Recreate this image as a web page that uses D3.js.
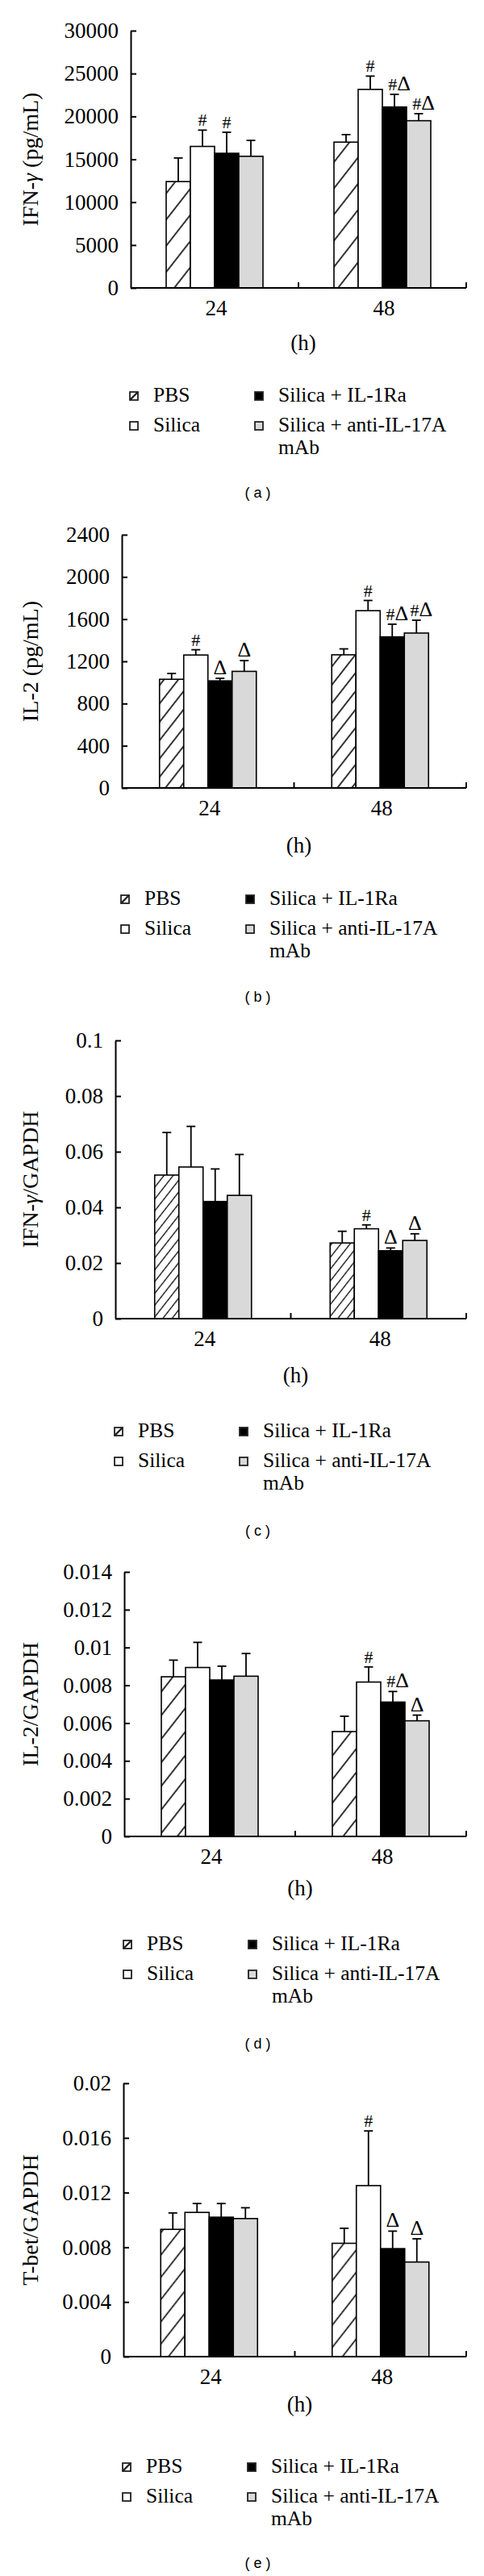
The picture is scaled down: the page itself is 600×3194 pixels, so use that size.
<!DOCTYPE html>
<html><head><meta charset="utf-8">
<script src="https://cdn.jsdelivr.net/npm/d3@7"></script>
<style>
body{margin:0;background:#fff}
svg{display:block}
text{font-family:"Liberation Serif","DejaVu Serif",serif;fill:#000}
</style>
</head><body>
<script>
// ---------- data ----------
const groups = ["PBS", "Silica", "Silica + IL-1Ra", "Silica + anti-IL-17A mAb"];
const times = ["24", "48"];

// (a) IFN-γ protein (pg/mL)
const ifnProtein    = [[12400, 16500, 15700, 15350], [17000, 23150, 21100, 19500]];
const ifnProteinErr = [[2750, 1900, 2450, 1850], [880, 1550, 1470, 820]];
const ifnProteinSig = [["", "#", "#", ""], ["", "#", "#Δ", "#Δ"]];
const ifnProteinTicks = [0, 5000, 10000, 15000, 20000, 25000, 30000];

// (b) IL-2 protein (pg/mL)
const il2Protein    = [[1030, 1260, 1015, 1105], [1262, 1680, 1432, 1468]];
const il2ProteinErr = [[55, 50, 24, 102], [56, 97, 120, 122]];
const il2ProteinSig = [["", "#", "Δ", "Δ"], ["", "#", "#Δ", "#Δ"]];
const il2ProteinTicks = [0, 400, 800, 1200, 1600, 2000, 2400];

// (c) IFN-γ mRNA / GAPDH
const ifnMrna    = [[0.0516, 0.0545, 0.0421, 0.0443], [0.0272, 0.0323, 0.0244, 0.0281]];
const ifnMrnaErr = [[0.0153, 0.0146, 0.0117, 0.0147], [0.0042, 0.0014, 0.0010, 0.0024]];
const ifnMrnaSig = [["", "", "", ""], ["", "#", "Δ", "Δ"]];
const ifnMrnaTicks = [0, 0.02, 0.04, 0.06, 0.08, 0.1];

// (d) IL-2 mRNA / GAPDH
const il2Mrna    = [[0.00845, 0.00894, 0.00828, 0.00848], [0.00555, 0.00817, 0.00711, 0.00612]];
const il2MrnaErr = [[0.00088, 0.00133, 0.00073, 0.00120], [0.00081, 0.00080, 0.00056, 0.00030]];
const il2MrnaSig = [["", "", "", ""], ["", "#", "#Δ", "Δ"]];
const il2MrnaTicks = [0, 0.002, 0.004, 0.006, 0.008, 0.01, 0.012, 0.014];

// (e) T-bet mRNA / GAPDH
const tbet    = [[0.00931, 0.01055, 0.0102, 0.0101], [0.00829, 0.01251, 0.0079, 0.00692]];
const tbetErr = [[0.0012, 0.00065, 0.0010, 0.00079], [0.0011, 0.0040, 0.00128, 0.0017]];
const tbetSig = [["", "", "", ""], ["", "#", "Δ", "Δ"]];
const tbetTicks = [0, 0.004, 0.008, 0.012, 0.016, 0.02];

const yLabels = [
  ["IFN-", "γ", " (pg/mL)"],
  ["IL-2 (pg/mL)"],
  ["IFN-", "γ", "/GAPDH"],
  ["IL-2/GAPDH"],
  ["T-bet/GAPDH"]
];
const panelLetters = ["a", "b", "c", "d", "e"];
const xTitle = "(h)";

// ---------- layout ----------
const W = 600, H = 3194;
const axisXs = [162, 151, 143, 154, 153];
const topYs  = [38, 663, 1290, 1949, 2583];
const zeroYs = [357, 977, 1635, 2277, 2922];
const hYs    = [434, 1057, 1714, 2350, 2990];
const legYs  = [498, 1122, 1782, 2418, 3066];
const labYs  = [617, 1242, 1904, 2540, 3184];
const hatchGap = [20, 14, 9, 18, 17];
const fills = [null, "#ffffff", "#000000", "#d9d9d9"];

const panels = [
  {vals: ifnProtein, errs: ifnProteinErr, sig: ifnProteinSig, ticks: ifnProteinTicks},
  {vals: il2Protein, errs: il2ProteinErr, sig: il2ProteinSig, ticks: il2ProteinTicks},
  {vals: ifnMrna, errs: ifnMrnaErr, sig: ifnMrnaSig, ticks: ifnMrnaTicks},
  {vals: il2Mrna, errs: il2MrnaErr, sig: il2MrnaSig, ticks: il2MrnaTicks},
  {vals: tbet, errs: tbetErr, sig: tbetSig, ticks: tbetTicks}
];

const svg = d3.select("body").append("svg").attr("width", W).attr("height", H);
const defs = svg.append("defs");

panels.forEach((p, i) => {
  const ax = axisXs[i], xr = 578;
  const yTop = topYs[i], y0 = zeroYs[i];
  const g = svg.append("g");

  // hatch pattern
  const pid = "hatch" + i, gap = hatchGap[i];
  const pat = defs.append("pattern").attr("id", pid)
    .attr("patternUnits", "userSpaceOnUse")
    .attr("width", gap).attr("height", gap)
    .attr("patternTransform", "rotate(38)");
  pat.append("rect").attr("width", gap).attr("height", gap).attr("fill", "#fff");
  pat.append("line").attr("x1", gap / 2).attr("x2", gap / 2).attr("y1", 0).attr("y2", gap)
    .attr("stroke", "#000").attr("stroke-width", i === 2 ? 1.3 : 1.6);

  const y = d3.scaleLinear().domain([0, d3.max(p.ticks)]).range([y0, yTop]);
  const x = d3.scaleBand().domain(times).range([ax, xr]);
  const xi = d3.scaleBand().domain(groups).range([-60, 60]);

  // bars
  times.forEach((t, ti) => {
    const cx = x(t) + x.bandwidth() / 2;
    groups.forEach((gname, gi) => {
      const v = p.vals[ti][gi], e = p.errs[ti][gi];
      const bx = cx + xi(gname), bw = xi.bandwidth();
      const bc = bx + bw / 2;
      // error bar (upper only)
      g.append("line").attr("x1", bc).attr("x2", bc).attr("y1", y(v)).attr("y2", y(v + e))
        .attr("stroke", "#000").attr("stroke-width", 1.8);
      g.append("line").attr("x1", bc - 5.5).attr("x2", bc + 5.5).attr("y1", y(v + e)).attr("y2", y(v + e))
        .attr("stroke", "#000").attr("stroke-width", 1.8);
      g.append("rect").attr("x", bx).attr("y", y(v)).attr("width", bw).attr("height", y0 - y(v))
        .attr("fill", gi === 0 ? `url(#${pid})` : fills[gi])
        .attr("stroke", "#000").attr("stroke-width", 1.6);
      const s = p.sig[ti][gi];
      if (s) {
        const tt = g.append("text").attr("x", bc + (s.length > 1 ? 6 : 0)).attr("y", y(v + e) - 5)
          .attr("text-anchor", "middle").style("font-size", "23px");
        s.split("").forEach(ch => {
          tt.append("tspan").style("font-size", ch === "Δ" ? "26px" : "22px").text(ch);
        });
      }
    });
  });

  // y axis
  const yAxis = d3.axisLeft(y).tickValues(p.ticks).tickSize(-7).tickSizeOuter(0).tickPadding(15)
    .tickFormat(d => String(d));
  const ya = g.append("g").attr("transform", `translate(${ax},0)`).call(yAxis);
  ya.selectAll("path,line").attr("stroke", "#000").attr("stroke-width", 2);
  ya.selectAll("text").style("font-size", "27px").style("font-family", '"Liberation Serif",serif');

  // x axis
  g.append("line").attr("x1", ax).attr("x2", xr).attr("y1", y0).attr("y2", y0)
    .attr("stroke", "#000").attr("stroke-width", 2);
  [x(times[1]), xr].forEach(tx => {
    g.append("line").attr("x1", tx).attr("x2", tx).attr("y1", y0).attr("y2", y0 - 7)
      .attr("stroke", "#000").attr("stroke-width", 2);
  });
  times.forEach(t => {
    g.append("text").attr("x", x(t) + x.bandwidth() / 2 + 2).attr("y", y0 + 34)
      .attr("text-anchor", "middle").style("font-size", "27px").text(t);
  });
  g.append("text").attr("x", x(times[1]) + 6).attr("y", hYs[i])
    .attr("text-anchor", "middle").style("font-size", "27px").text(xTitle);

  // y label
  const yl = g.append("text")
    .attr("transform", `translate(37,${(y0 + yTop) / 2}) rotate(-90)`)
    .attr("text-anchor", "middle").attr("dominant-baseline", "central")
    .style("font-size", "28px");
  yLabels[i].forEach(part => {
    const ts = yl.append("tspan").text(part);
    if (part === "γ") ts.style("font-style", "italic");
  });

  // legend
  const lx = [ax - 1, ax + 154];
  const base = [legYs[i], legYs[i] + 37];
  groups.forEach((gname, gi) => {
    const col = gi < 2 ? 0 : 1, row = gi % 2;
    const sx = lx[col], sy = base[row] - 12;
    const lg = g.append("g");
    lg.append("rect").attr("x", sx).attr("y", sy).attr("width", 10).attr("height", 10)
      .attr("fill", gi === 0 ? "#fff" : fills[gi]).attr("stroke", "#222").attr("stroke-width", 1.8);
    if (gi === 0) {
      lg.append("line").attr("x1", sx).attr("y1", sy + 10).attr("x2", sx + 10).attr("y2", sy)
        .attr("stroke", "#222").attr("stroke-width", 2.4);
    }
    const tx = sx + 29;
    if (gi === 3) {
      lg.append("text").attr("x", tx).attr("y", base[row]).style("font-size", "25.5px").text("Silica + anti-IL-17A");
      lg.append("text").attr("x", tx).attr("y", base[row] + 28).style("font-size", "25.5px").text("mAb");
    } else {
      lg.append("text").attr("x", tx).attr("y", base[row]).style("font-size", "25.5px").text(gname);
    }
  });

  // panel label
  g.append("text").attr("x", 322).attr("y", labYs[i]).attr("text-anchor", "middle")
    .style("font-family", '"Liberation Sans",Arial,sans-serif').style("font-size", "18px")
    .style("letter-spacing", "5px").text(`(${panelLetters[i]})`);
});
</script>
</body></html>
